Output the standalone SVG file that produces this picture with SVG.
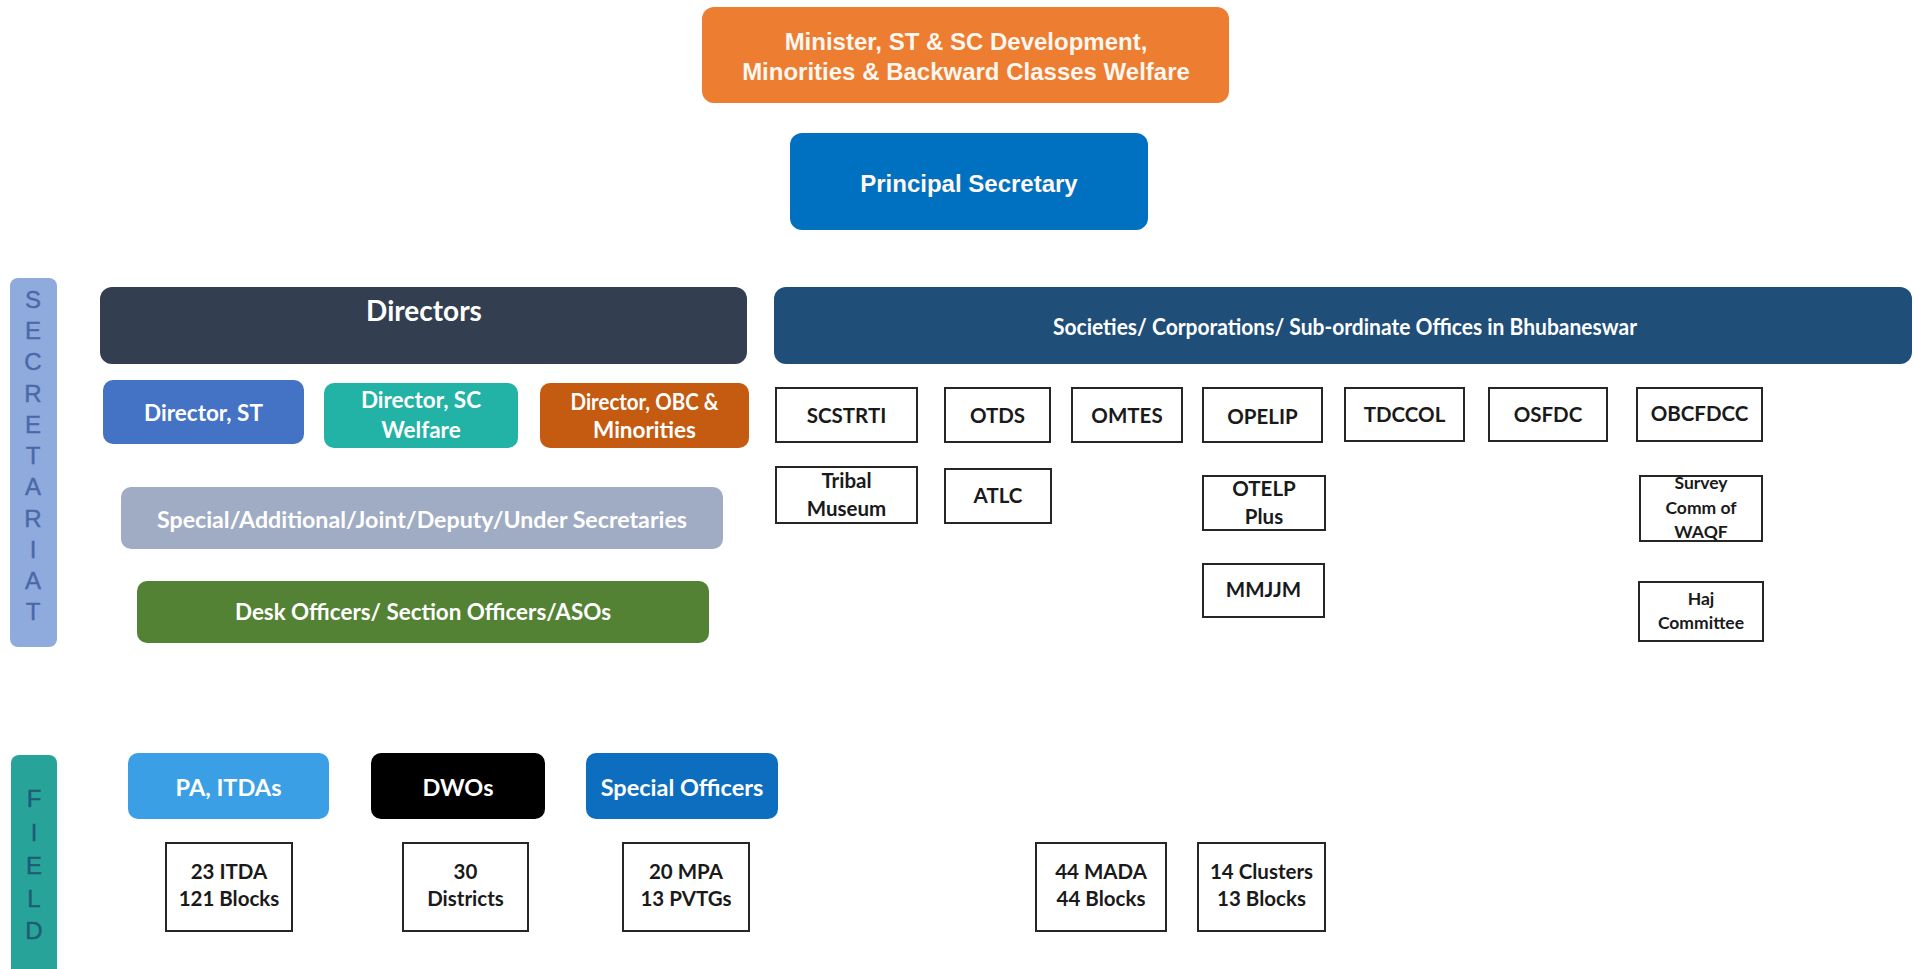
<svg xmlns="http://www.w3.org/2000/svg" width="1914" height="969" viewBox="0 0 1914 969">
<style>
  .hd { font-family: "Liberation Sans", Arial, sans-serif; font-weight: bold; font-size: 24px; fill: #FFF7F0; text-anchor: middle; }
  .lb { font-family: Lato, "Liberation Sans", sans-serif; font-weight: bold; fill: #FFFFFF; text-anchor: middle; }
  .bx { fill: #FFFFFF; stroke: #262626; stroke-width: 2; }
  .bt { font-family: Lato, "Liberation Sans", sans-serif; font-weight: bold; font-size: 20.5px; fill: #1A1A1A; text-anchor: middle; }
  .sm { font-size: 17.5px; }
  .vl { font-family: "Liberation Sans", Arial, sans-serif; font-size: 24px; text-anchor: middle; }
</style>
<rect width="1914" height="969" fill="#FFFFFF"/>
<g id="connectors"/>

<g id="minister">
  <rect x="702" y="7" width="527" height="96" rx="12" fill="#ED7D31"/>
  <text class="hd" x="966" y="50">Minister, ST &amp; SC Development,</text>
  <text class="hd" x="966" y="80">Minorities &amp; Backward Classes Welfare</text>
</g>
<g id="principal-secretary">
  <rect x="790" y="133" width="358" height="97" rx="12" fill="#0070C0"/>
  <text class="hd" x="969" y="192" fill="#FFFFFF">Principal Secretary</text>
</g>

<g id="secretariat-label">
  <rect x="10" y="278" width="47" height="369" rx="8" fill="#8FAADC"/>
  <g class="vl" fill="#4A69A8" stroke="#4A69A8" stroke-width="0.4">
    <text x="33" y="308">S</text>
    <text x="33" y="339">E</text>
    <text x="33" y="370">C</text>
    <text x="33" y="402">R</text>
    <text x="33" y="433">E</text>
    <text x="33" y="464">T</text>
    <text x="33" y="495">A</text>
    <text x="33" y="527">R</text>
    <text x="33" y="558">I</text>
    <text x="33" y="589">A</text>
    <text x="33" y="620">T</text>
  </g>
</g>
<g id="field-label">
  <rect x="11" y="755" width="46" height="230" rx="8" fill="#27A39A"/>
  <g class="vl" fill="#1D5C72" stroke="#1D5C72" stroke-width="0.4">
    <text x="34" y="807">F</text>
    <text x="34" y="841">I</text>
    <text x="34" y="874">E</text>
    <text x="34" y="907">L</text>
    <text x="34" y="939">D</text>
  </g>
</g>

<g id="directors">
  <rect x="100" y="287" width="647" height="77" rx="12" fill="#333F50"/>
  <text class="lb" x="424" y="321" font-size="28">Directors</text>
</g>
<g id="societies">
  <rect x="774" y="287" width="1138" height="77" rx="12" fill="#1F4E79"/>
  <text class="lb" x="1345" y="335" font-size="22" textLength="584" lengthAdjust="spacingAndGlyphs">Societies/ Corporations/ Sub-ordinate Offices in Bhubaneswar</text>
</g>
<g id="director-st">
  <rect x="103" y="380" width="201" height="64" rx="10" fill="#4472C4"/>
  <text class="lb" x="203.5" y="421" font-size="22.5">Director, ST</text>
</g>
<g id="director-sc">
  <rect x="324" y="383" width="194" height="65" rx="10" fill="#22B2A6"/>
  <text class="lb" x="421" y="408" font-size="22.5">Director, SC</text>
  <text class="lb" x="421" y="438" font-size="22.5">Welfare</text>
</g>
<g id="director-obc">
  <rect x="540" y="383" width="209" height="65" rx="10" fill="#C55A11"/>
  <text class="lb" x="644.5" y="410" font-size="22.5" textLength="148" lengthAdjust="spacingAndGlyphs">Director, OBC &amp;</text>
  <text class="lb" x="644.5" y="438" font-size="22.5">Minorities</text>
</g>
<g id="secretaries">
  <rect x="121" y="487" width="602" height="62" rx="10" fill="#9FACC3"/>
  <text class="lb" x="422" y="528" font-size="22" textLength="530" lengthAdjust="spacingAndGlyphs">Special/Additional/Joint/Deputy/Under Secretaries</text>
</g>
<g id="desk-officers">
  <rect x="137" y="581" width="572" height="62" rx="10" fill="#548235"/>
  <text class="lb" x="423" y="620" font-size="22" textLength="376" lengthAdjust="spacingAndGlyphs">Desk Officers/ Section Officers/ASOs</text>
</g>

<g id="scstrti"><rect class="bx" x="776" y="388" width="141" height="54"/><text class="bt" x="846.5" y="423">SCSTRTI</text></g>
<g id="otds"><rect class="bx" x="945" y="388" width="105" height="54"/><text class="bt" x="997.5" y="423">OTDS</text></g>
<g id="omtes"><rect class="bx" x="1072" y="388" width="110" height="54"/><text class="bt" x="1127" y="423">OMTES</text></g>
<g id="opelip"><rect class="bx" x="1203" y="388" width="119" height="54"/><text class="bt" x="1262.5" y="424">OPELIP</text></g>
<g id="tdccol"><rect class="bx" x="1345" y="388" width="119" height="53"/><text class="bt" x="1404.5" y="422">TDCCOL</text></g>
<g id="osfdc"><rect class="bx" x="1489" y="388" width="118" height="53"/><text class="bt" x="1548" y="422">OSFDC</text></g>
<g id="obcfdcc"><rect class="bx" x="1637" y="388" width="125" height="53"/><text class="bt" x="1699.5" y="421">OBCFDCC</text></g>

<g id="tribal-museum"><rect class="bx" x="776" y="467" width="141" height="56"/><text class="bt" x="846.5" y="488">Tribal</text><text class="bt" x="846.5" y="516">Museum</text></g>
<g id="atlc"><rect class="bx" x="945" y="469" width="106" height="54"/><text class="bt" x="998" y="503">ATLC</text></g>
<g id="otelp-plus"><rect class="bx" x="1203" y="476" width="122" height="54"/><text class="bt" x="1264" y="496">OTELP</text><text class="bt" x="1264" y="524">Plus</text></g>
<g id="survey-waqf"><rect class="bx" x="1640" y="476" width="122" height="65"/><text class="bt sm" x="1701" y="489">Survey</text><text class="bt sm" x="1701" y="514">Comm of</text><text class="bt sm" x="1701" y="538">WAQF</text></g>
<g id="mmjjm"><rect class="bx" x="1203" y="564" width="121" height="53"/><text class="bt" x="1263.5" y="597">MMJJM</text></g>
<g id="haj-committee"><rect class="bx" x="1639" y="582" width="124" height="59"/><text class="bt sm" x="1701" y="605">Haj</text><text class="bt sm" x="1701" y="629">Committee</text></g>

<g id="pa-itdas">
  <rect x="128" y="753" width="201" height="66" rx="10" fill="#3A9FE5"/>
  <text class="lb" x="228.5" y="796" font-size="23.5">PA, ITDAs</text>
</g>
<g id="dwos">
  <rect x="371" y="753" width="174" height="66" rx="10" fill="#000000"/>
  <text class="lb" x="458" y="796" font-size="23.5">DWOs</text>
</g>
<g id="special-officers">
  <rect x="586" y="753" width="192" height="66" rx="10" fill="#0D6EBF"/>
  <text class="lb" x="682" y="796" font-size="23.5">Special Officers</text>
</g>

<g id="itda-blocks"><rect class="bx" x="166" y="843" width="126" height="88"/><text class="bt" x="229" y="879">23 ITDA</text><text class="bt" x="229" y="906">121 Blocks</text></g>
<g id="districts"><rect class="bx" x="403" y="843" width="125" height="88"/><text class="bt" x="465.5" y="879">30</text><text class="bt" x="465.5" y="906">Districts</text></g>
<g id="mpa-pvtgs"><rect class="bx" x="623" y="843" width="126" height="88"/><text class="bt" x="686" y="879">20 MPA</text><text class="bt" x="686" y="906">13 PVTGs</text></g>
<g id="mada-blocks"><rect class="bx" x="1036" y="843" width="130" height="88"/><text class="bt" x="1101" y="879">44 MADA</text><text class="bt" x="1101" y="906">44 Blocks</text></g>
<g id="clusters-blocks"><rect class="bx" x="1198" y="843" width="127" height="88"/><text class="bt" x="1261.5" y="879">14 Clusters</text><text class="bt" x="1261.5" y="906">13 Blocks</text></g>
</svg>
